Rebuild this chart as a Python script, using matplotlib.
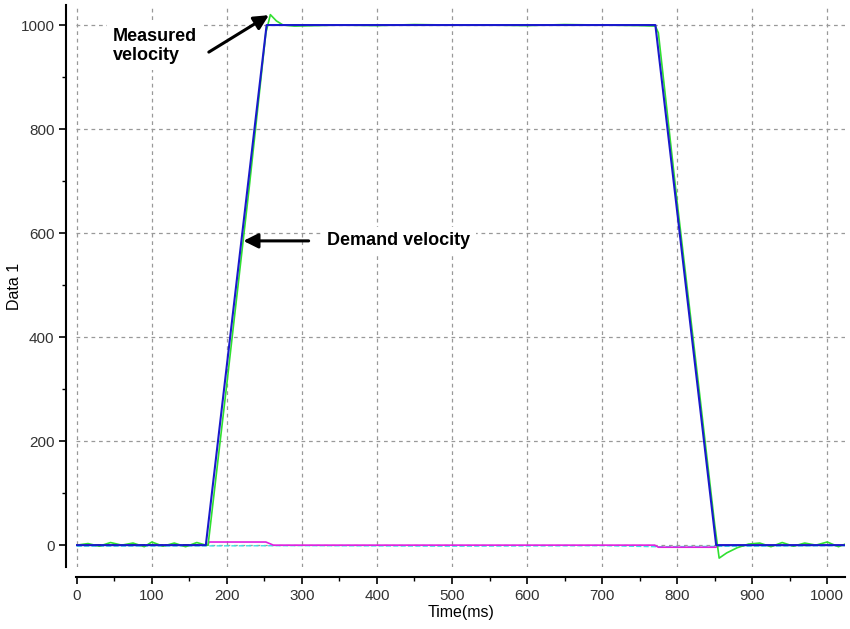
import matplotlib
matplotlib.use("Agg")
import matplotlib.pyplot as plt
from matplotlib.ticker import MultipleLocator

plt.rcParams['font.family'] = ['Liberation Sans', 'DejaVu Sans']

# Demand velocity (blue)
demand_t = [0, 172, 253, 771, 852, 1024]
demand_v = [0, 0, 1000, 1000, 0, 0]

# Measured velocity (green)
meas_t = [0, 15, 30, 45, 60, 75, 90, 100, 115, 130, 145, 160, 172, 175, 200, 230,
          252, 258, 266, 275, 290, 350, 400, 450, 500, 550, 600, 650, 700, 750,
          771, 775, 800, 830, 850, 856, 866, 880, 895, 910, 925, 940, 955, 970,
          985, 1000, 1015, 1024]
meas_v = [0, 3, -2, 5, 0, 4, -3, 6, -2, 4, -3, 5, 0, 0, 310, 690,
          985, 1020, 1008, 1000, 998, 1000, 999, 1001, 1000, 1000, 999, 1001, 1000, 999,
          998, 985, 660, 290, 40, -25, -15, -5, 2, 4, -3, 5, -2, 4,
          0, 6, -3, 2]

# Other traces near zero (magenta, cyan)
mag_t = [0, 175, 176, 252, 262, 770, 775, 852, 856, 1024]
mag_v = [0, 0, 6, 6, 0, 0, -4, -4, 0, 0]
cyan_t = [0, 300, 500, 700, 770, 1024]
cyan_v = [-2, -1, -2, -1, -3, -1]

xticks = [0, 100, 200, 300, 400, 500, 600, 700, 800, 900, 1000]
yticks = [0, 200, 400, 600, 800, 1000]

fig = plt.figure(figsize=(8.5, 6.29), dpi=100)
ax = fig.add_axes([0.0894, 0.0986, 0.905, 0.893])

ax.plot(cyan_t, cyan_v, color='#40e0e0', lw=1.0, ls='--')
ax.plot(mag_t, mag_v, color='#e020e0', lw=1.2)
ax.plot([0, 172], [0, 0], color='#105010', lw=1.2, ls='--')
ax.plot(meas_t, meas_v, color='#30e030', lw=1.2)
ax.plot(demand_t, demand_v, color='#1a1acc', lw=1.5)

ax.set_xlim(-1, 1024)
ax.set_ylim(-42, 1038)
ax.set_xticks(xticks)
ax.set_yticks(yticks)
ax.xaxis.set_minor_locator(MultipleLocator(50))
ax.yaxis.set_minor_locator(MultipleLocator(100))
ax.grid(True, which='major', color='#999999', ls=(0, (3, 3)), lw=0.9)

for s in ['top', 'right']:
    ax.spines[s].set_visible(False)
ax.spines['left'].set_position(('outward', 7))
ax.spines['bottom'].set_position(('outward', 7))
ax.spines['left'].set_linewidth(1.5)
ax.spines['bottom'].set_linewidth(1.5)
ax.tick_params(which='major', length=5, width=1.2, labelsize=11, labelcolor='#333333')
ax.tick_params(which='minor', length=3, width=1.0)

ax.set_xlabel('Time(ms)', fontsize=11.5, labelpad=2)
ax.set_ylabel('Data 1', fontsize=11.5)
ax.yaxis.set_label_coords(-0.070, 0.5)

bbox = dict(boxstyle='square,pad=0.3', fc='white', ec='none')
ax.text(48, 959, 'Measured\nvelocity', fontsize=13, fontweight='bold',
        va='center', ha='left', bbox=bbox, linespacing=1.15)
ax.annotate('', xy=(256, 1019), xytext=(176, 948),
            arrowprops=dict(arrowstyle='-|>', color='black', lw=2.2, mutation_scale=22,
                            shrinkA=0, shrinkB=0))
ax.text(334, 585, 'Demand velocity', fontsize=13, fontweight='bold',
        va='center', ha='left', bbox=bbox)
ax.annotate('', xy=(222, 585), xytext=(309, 585),
            arrowprops=dict(arrowstyle='-|>', color='black', lw=2.2, mutation_scale=22,
                            shrinkA=0, shrinkB=0))

fig.savefig('out.png', dpi=100)
